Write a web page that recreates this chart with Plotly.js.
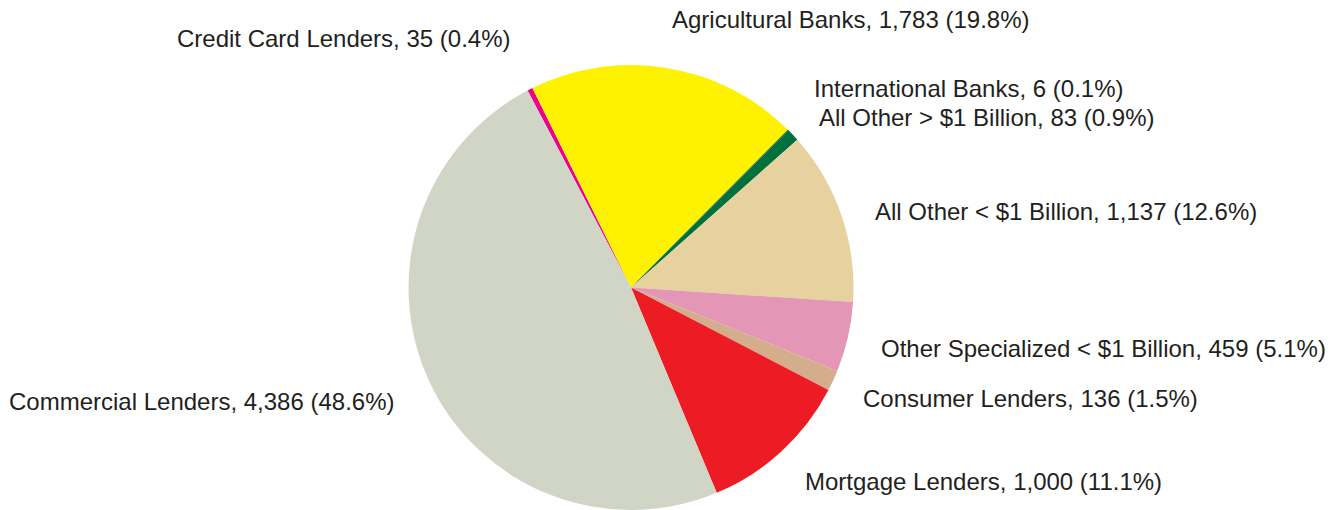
<!DOCTYPE html>
<html>
<head>
<meta charset="utf-8">
<script src="https://cdn.plot.ly/plotly-3.0.1.min.js"></script>
<style>
html, body { margin: 0; padding: 0; overflow: hidden; background: #ffffff; }
#chart { width: 1343px; height: 510px; }
</style>
</head>
<body>
<div id="chart"></div>
<script>
// Data (clockwise order, starting at Credit Card Lenders)
const categories = [
  "Credit Card Lenders",
  "Agricultural Banks",
  "International Banks",
  "All Other > $1 Billion",
  "All Other < $1 Billion",
  "Other Specialized < $1 Billion",
  "Consumer Lenders",
  "Mortgage Lenders",
  "Commercial Lenders"
];
const counts = [35, 1783, 6, 83, 1137, 459, 136, 1000, 4386];
const sliceColors = ["#ec008c", "#fff200", "#24483a", "#00703c", "#e6d19f", "#e396b5", "#d4ae8c", "#ed1c24", "#d1d5c5"];

// Label placement (pixel positions of each label's left edge / vertical middle)
const labelX = [177, 671.5, 814, 819, 875, 880.5, 862.8, 805.5, 8.8];
const labelY = [39, 19.4, 88.4, 117.7, 211, 348.4, 398.4, 481, 401.7];

const W = 1343, H = 510;
const total = counts.reduce((a, b) => a + b, 0);

const labelTexts = categories.map((c, i) =>
  c + ", " + counts[i].toLocaleString("en-US") + " (" + (counts[i] / total * 100).toFixed(1) + "%)"
);

const trace = {
  type: "pie",
  labels: categories,
  values: counts,
  sort: false,
  direction: "clockwise",
  rotation: -27.7,
  marker: { colors: sliceColors, line: { width: 0 } },
  textinfo: "none",
  hoverinfo: "label+value+percent",
  showlegend: false,
  domain: { x: [0.2465, 0.6932], y: [0, 445 / 510] }
};

const annotations = labelTexts.map((t, i) => ({
  text: t,
  xref: "paper", yref: "paper",
  x: labelX[i] / W,
  y: 1 - labelY[i] / H,
  xanchor: "left", yanchor: "middle",
  showarrow: false,
  borderpad: 0, borderwidth: 0,
  font: { family: "Liberation Sans, Arial, sans-serif", size: 24, color: "#231f20" }
}));

const layout = {
  width: W, height: H,
  margin: { l: 0, r: 0, t: 0, b: 0 },
  paper_bgcolor: "#ffffff",
  plot_bgcolor: "#ffffff",
  showlegend: false,
  annotations: annotations
};

Plotly.newPlot("chart", [trace], layout, { displayModeBar: false, staticPlot: true });
</script>
</body>
</html>
